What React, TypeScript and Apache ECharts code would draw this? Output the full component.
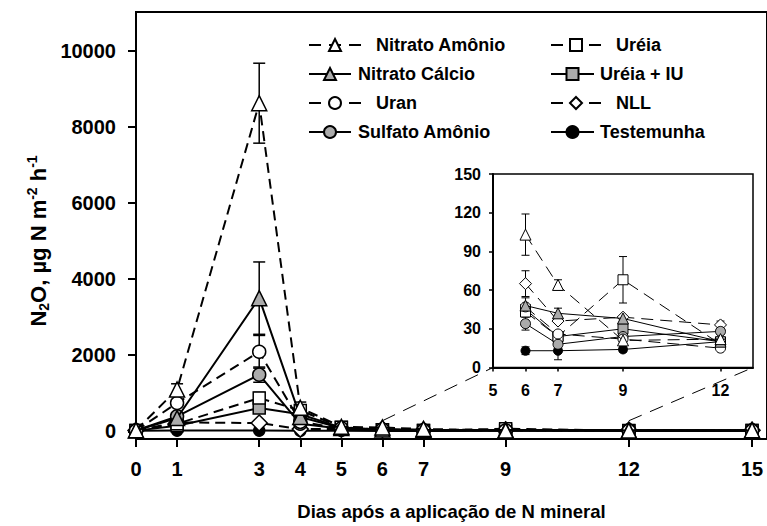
import React, { useEffect, useRef } from "react";
import * as echarts from "echarts";

// ---- data ----
const days = [0, 1, 3, 4, 5, 6, 7, 9, 12, 15];
const xTickValues = [0, 1, 3, 4, 5, 6, 7, 9, 12, 15];
const yTickValues = [0, 2000, 4000, 6000, 8000, 10000];
const insetXTicks = [5, 6, 7, 9, 12];

const nitratoAmonio = [30, 1100, 8620, 620, 120, 103, 64, 21, 22, 30];
const nitratoAmonioErr = [0, 150, 1050, 150, 0, 16, 4, 0, 0, 0];
const nitratoCalcio = [25, 350, 3500, 380, 90, 48, 42, 38, 20, 25];
const nitratoCalcioErr = [0, 0, 950, 0, 0, 6, 4, 0, 0, 0];
const uran = [20, 745, 2090, 250, 80, 47, 26, 22, 15, 20];
const uranErr = [0, 0, 430, 0, 0, 0, 0, 0, 0, 0];
const sulfatoAmonio = [25, 395, 1490, 200, 70, 34, 18, 24, 28, 25];
const sulfatoAmonioErr = [0, 0, 200, 0, 0, 5, 0, 0, 0, 0];
const ureia = [20, 200, 875, 550, 110, 43, 24, 68, 18, 25];
const ureiaErr = [0, 0, 150, 0, 0, 0, 0, 18, 0, 0];
const ureiaIU = [20, 150, 615, 450, 100, 45, 24, 30, 20, 22];
const ureiaIUErr = [0, 0, 100, 0, 0, 0, 0, 0, 0, 0];
const nll = [25, 235, 220, 60, 60, 65, 36, 39, 33, 30];
const nllErr = [0, 0, 0, 0, 0, 10, 0, 0, 3, 0];
const testemunha = [15, 20, 20, 15, 15, 13, 13, 14, 20, 15];
const testemunhaErr = [0, 0, 0, 0, 0, 3, 7, 2, 0, 0];

const FONT = "'Liberation Sans', Arial, Helvetica, sans-serif";
const GRAY = "#ababab";

type Def = {
  name: string;
  values: number[];
  errors: number[];
  dashed: boolean;
  symbol: string;
  fill: string;
  size: number;
  insetSize: number;
};

const defs: Def[] = [
  { name: "Nitrato Amônio", values: nitratoAmonio, errors: nitratoAmonioErr, dashed: true, symbol: "triangle", fill: "#fff", size: 15, insetSize: 11 },
  { name: "Nitrato Cálcio", values: nitratoCalcio, errors: nitratoCalcioErr, dashed: false, symbol: "triangle", fill: GRAY, size: 15, insetSize: 11 },
  { name: "Uran", values: uran, errors: uranErr, dashed: true, symbol: "circle", fill: "#fff", size: 13, insetSize: 10 },
  { name: "Sulfato Amônio", values: sulfatoAmonio, errors: sulfatoAmonioErr, dashed: false, symbol: "circle", fill: GRAY, size: 13, insetSize: 10 },
  { name: "Uréia", values: ureia, errors: ureiaErr, dashed: true, symbol: "rect", fill: "#fff", size: 12, insetSize: 10 },
  { name: "Uréia + IU", values: ureiaIU, errors: ureiaIUErr, dashed: false, symbol: "rect", fill: GRAY, size: 12, insetSize: 10 },
  { name: "NLL", values: nll, errors: nllErr, dashed: true, symbol: "diamond", fill: "#fff", size: 16, insetSize: 12 },
  { name: "Testemunha", values: testemunha, errors: testemunhaErr, dashed: false, symbol: "circle", fill: "#000", size: 11, insetSize: 9 },
];

function errorRender(capHalf: number, lw: number) {
  return (params: any, api: any) => {
    const x = api.value(0);
    const y = api.value(1);
    const e = api.value(2);
    const top = api.coord([x, y + e]);
    const bot = api.coord([x, y - e]);
    const style = { stroke: "#000", lineWidth: lw };
    return {
      type: "group",
      children: [
        { type: "line", shape: { x1: top[0], y1: top[1], x2: bot[0], y2: bot[1] }, style },
        { type: "line", shape: { x1: top[0] - capHalf, y1: top[1], x2: top[0] + capHalf, y2: top[1] }, style },
        { type: "line", shape: { x1: bot[0] - capHalf, y1: bot[1], x2: bot[0] + capHalf, y2: bot[1] }, style },
      ],
    };
  };
}

export default function App() {
  const ref = useRef<HTMLDivElement>(null);

  useEffect(() => {
    const chart = echarts.init(ref.current!, null, { renderer: "svg" });

    const mainSeries = defs.map((d, i) => ({
      name: d.name,
      type: "line",
      xAxisIndex: 0,
      yAxisIndex: 0,
      z: 20 - i,
      data: days.map((x, k) => [x, d.values[k]]),
      symbol: d.symbol,
      symbolSize: d.size,
      showAllSymbol: true,
      lineStyle: { color: "#000", width: 2, type: d.dashed ? [10, 6] : "solid" },
      itemStyle: { color: d.fill, borderColor: "#000", borderWidth: 1.5 },
      emphasis: { disabled: true },
    }));

    const insetSeries = defs.map((d, i) => ({
      name: d.name,
      type: "line",
      xAxisIndex: 1,
      yAxisIndex: 1,
      z: 40 - i,
      data: days
        .map((x, k) => [x, d.values[k]])
        .filter((p) => p[0] >= 6 && p[0] <= 12),
      symbol: d.symbol,
      symbolSize: d.insetSize,
      lineStyle: { color: "#000", width: 1, type: d.dashed ? [12, 7] : "solid" },
      itemStyle: { color: d.fill, borderColor: "#000", borderWidth: 1 },
      emphasis: { disabled: true },
    }));

    const mainErr: number[][] = [];
    const insetErr: number[][] = [];
    defs.forEach((d) => {
      days.forEach((x, k) => {
        if (d.errors[k] > 0) {
          mainErr.push([x, d.values[k], d.errors[k]]);
          if (x >= 6 && x <= 12) insetErr.push([x, d.values[k], d.errors[k]]);
        }
      });
    });

    const legendText = { fontFamily: FONT, fontWeight: "bold", fontSize: 18, color: "#000", lineHeight: 18 };
    const legendBase = {
      orient: "vertical",
      selectedMode: false,
      itemHeight: 15,
      itemGap: 40,
    };

    const option: any = {
      animation: false,
      backgroundColor: "#fff",
      grid: [
        { left: 136, top: 12, right: -2, bottom: 86.7, show: true, borderColor: "#000", borderWidth: 2 },
        { left: 493, top: 174, width: 260, height: 193.5, show: true, borderColor: "#000", borderWidth: 1.5, backgroundColor: "#fff" },
      ],
      legend: [
        { ...legendBase, left: 303, top: 31, itemWidth: 52, lineStyle: { type: [12, 8], width: 2 }, data: ["Nitrato Amônio", "Uran"], textStyle: { ...legendText, padding: [0, 0, 0, 10] } },
        { ...legendBase, left: 303, top: 60, itemWidth: 42, data: ["Nitrato Cálcio", "Sulfato Amônio"], textStyle: { ...legendText, padding: [0, 0, 0, 2] } },
        { ...legendBase, left: 545, top: 31, itemWidth: 50, lineStyle: { type: [12, 7], width: 2 }, data: ["Uréia", "NLL"], textStyle: { ...legendText, padding: [0, 0, 0, 10] } },
        { ...legendBase, left: 545, top: 60, itemWidth: 43, data: ["Uréia + IU", "Testemunha"], textStyle: { ...legendText, padding: [0, 0, 0, 1] } },
      ],
      xAxis: [
        {
          type: "value",
          gridIndex: 0,
          min: 0,
          max: 15.364,
          splitLine: { show: false },
          axisLine: { show: true, onZero: false, lineStyle: { color: "#000", width: 2 } },
          axisTick: { show: true, customValues: xTickValues, length: 8, lineStyle: { color: "#000", width: 2 } },
          axisLabel: { customValues: xTickValues, margin: 20, fontFamily: FONT, fontWeight: "bold", fontSize: 20, color: "#000" },
          name: "Dias após a aplicação de N mineral",
          nameLocation: "middle",
          nameGap: 63,
          nameTextStyle: { fontFamily: FONT, fontWeight: "bold", fontSize: 18.5, color: "#000", verticalAlign: "top" },
        },
        {
          type: "value",
          gridIndex: 1,
          min: 5,
          max: 13,
          splitLine: { show: false },
          axisLine: { show: true, onZero: false, lineStyle: { color: "#000", width: 2 } },
          axisTick: { show: true, customValues: insetXTicks, length: 4, lineStyle: { color: "#000", width: 1.5 } },
          axisLabel: { customValues: insetXTicks, margin: 15, fontFamily: FONT, fontWeight: "bold", fontSize: 16, color: "#000" },
        },
      ],
      yAxis: [
        {
          type: "value",
          gridIndex: 0,
          min: -200,
          max: 11015,
          splitLine: { show: false },
          axisLine: { show: true, onZero: false, lineStyle: { color: "#000", width: 2 } },
          axisTick: { show: true, customValues: yTickValues, length: 8, lineStyle: { color: "#000", width: 2 } },
          axisLabel: {
            customValues: yTickValues,
            formatter: (v: number) => String(v),
            margin: 20,
            fontFamily: FONT,
            fontWeight: "bold",
            fontSize: 20,
            color: "#000",
          },
        },
        {
          type: "value",
          gridIndex: 1,
          min: 0,
          max: 150,
          interval: 30,
          splitLine: { show: false },
          axisLine: { show: true, onZero: false, lineStyle: { color: "#000", width: 2 } },
          axisTick: { show: true, length: 4, lineStyle: { color: "#000", width: 1.5 } },
          axisLabel: { margin: 12, fontFamily: FONT, fontWeight: "bold", fontSize: 16, color: "#000" },
        },
      ],
      graphic: [
        {
          type: "text",
          x: 38,
          y: 241,
          rotation: Math.PI / 2,
          silent: true,
          style: {
            text: "{t|N}{s|2}{t|O, µg N m}{p|-2}{t| h}{p|-1}",
            align: "center",
            verticalAlign: "middle",
            rich: {
              t: { fontFamily: FONT, fontWeight: "bold", fontSize: 22, fill: "#000", lineHeight: 26 },
              s: { fontFamily: FONT, fontWeight: "bold", fontSize: 14, fill: "#000", lineHeight: 13, verticalAlign: "bottom" },
              p: { fontFamily: FONT, fontWeight: "bold", fontSize: 14, fill: "#000", lineHeight: 13, verticalAlign: "top" },
            },
          },
        },
      ],
      series: [
        {
          name: "erro",
          type: "custom",
          xAxisIndex: 0,
          yAxisIndex: 0,
          z: 12,
          silent: true,
          renderItem: errorRender(6, 1.5),
          data: mainErr,
        },
        ...mainSeries,
        {
          name: "erro inset",
          type: "custom",
          xAxisIndex: 1,
          yAxisIndex: 1,
          z: 30,
          silent: true,
          renderItem: errorRender(4, 1),
          data: insetErr,
        },
        ...insetSeries,
      ],
    };

    chart.setOption(option);

    const a1 = chart.convertToPixel({ gridIndex: 0 }, [6, 280]) as number[];
    const b1 = chart.convertToPixel({ gridIndex: 1 }, [5, 0]) as number[];
    const a2 = chart.convertToPixel({ gridIndex: 0 }, [12, 280]) as number[];
    const b2 = chart.convertToPixel({ gridIndex: 1 }, [13, 0]) as number[];
    const connStyle = { stroke: "#000", lineWidth: 1, lineDash: [14, 9] };
    chart.setOption({
      graphic: [
        option.graphic[0],
        { type: "line", z: 50, shape: { x1: a1[0], y1: a1[1], x2: b1[0], y2: b1[1] }, style: connStyle, silent: true },
        { type: "line", z: 50, shape: { x1: a2[0], y1: a2[1], x2: b2[0], y2: b2[1] }, style: connStyle, silent: true },
      ],
    });

    return () => chart.dispose();
  }, []);

  return (
    <div
      ref={ref}
      style={{ position: "fixed", left: 0, top: 0, width: 767, height: 526, background: "#fff" }}
    />
  );
}
